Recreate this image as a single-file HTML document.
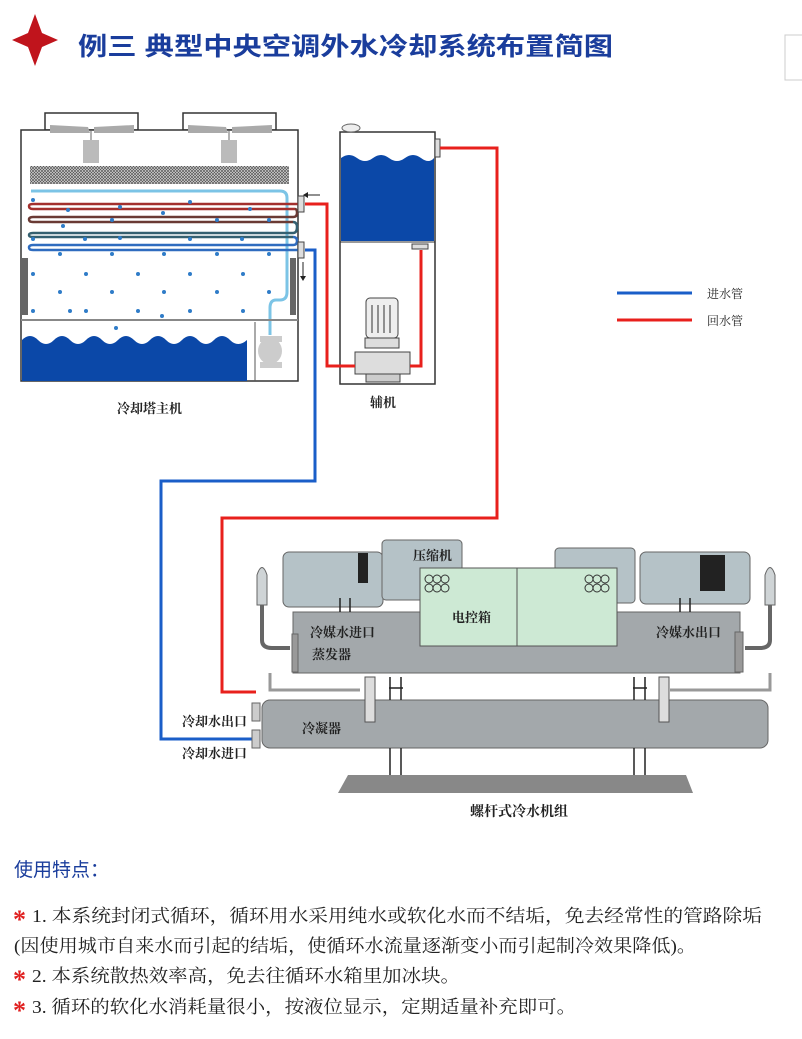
<!DOCTYPE html>
<html><head><meta charset="utf-8"><style>
html,body{margin:0;padding:0;background:#fff;}
svg{display:block}
.s{font-family:"Liberation Serif","Noto Serif CJK SC",serif;fill:#222;}
.h{font-family:"Liberation Sans","Noto Sans CJK SC",sans-serif;fill:#1a3d9c;}
</style></head><body>
<svg width="802" height="1039" viewBox="0 0 802 1039" xmlns="http://www.w3.org/2000/svg">
<!-- title -->
<polygon points="35,14 42,33 58,40 42,47 35,66 28,47 12,40 28,33" fill="#c0141c"/>
<text class="h" x="78" y="55" font-size="25" font-weight="bold" textLength="535" lengthAdjust="spacingAndGlyphs">例三  典型中央空调外水冷却系统布置简图</text>
<rect x="785" y="35" width="20" height="45" fill="#fff" stroke="#ccc"/>

<!-- cooling tower -->
<rect x="45" y="113" width="93" height="17" fill="#fff" stroke="#333" stroke-width="1.5"/>
<rect x="183" y="113" width="93" height="17" fill="#fff" stroke="#333" stroke-width="1.5"/>
<rect x="21" y="130" width="277" height="251" fill="#fff" stroke="#333" stroke-width="1.5"/>
<polygon points="50,125 88,127 90,133 50,133" fill="#aaa"/><polygon points="94,127 134,125 134,133 94,133" fill="#aaa"/>
<polygon points="188,125 226,127 228,133 188,133" fill="#aaa"/><polygon points="232,127 272,125 272,133 232,133" fill="#aaa"/>
<rect x="83" y="140" width="16" height="23" fill="#bbb"/><rect x="221" y="140" width="16" height="23" fill="#bbb"/>
<line x1="91" y1="130" x2="91" y2="140" stroke="#666"/><line x1="229" y1="130" x2="229" y2="140" stroke="#666"/>
<defs><pattern id="hp" width="3" height="3" patternUnits="userSpaceOnUse"><rect width="3" height="3" fill="#ddd"/><path d="M0,0L3,3M3,0L0,3" stroke="#555" stroke-width="0.7"/></pattern></defs>
<rect x="30" y="166" width="259" height="18" fill="url(#hp)"/>
<g fill="none" stroke-width="2.5">
<path d="M31,191 H280 Q287,191 287,198 V292 Q287,300 280,300 H276 Q270,300 270,308 V335" stroke="#7cc4e6" stroke-width="3"/>
<path d="M298,204 H33 Q29,204 29,206 Q29,209 33,209 H295" stroke="#a3302e"/>
<path d="M295,209 Q297,209 297,213 Q297,217 293,217 H33 Q29,217 29,219.5 Q29,222 33,222 H293" stroke="#6a3a34"/>
<path d="M293,222 Q297,222 297,227 Q297,233 293,233 H33 Q29,233 29,235 Q29,237 33,237 H293" stroke="#356070"/>
<path d="M293,237 Q297,237 297,241 Q297,245 293,245 H33 Q29,245 29,247.5 Q29,250 33,250 H298" stroke="#2f6cbf"/>
</g>
<g fill="#2f7cc8">
<circle cx="33" cy="200" r="2"/><circle cx="120" cy="207" r="2"/><circle cx="163" cy="213" r="2"/><circle cx="68" cy="210" r="2"/><circle cx="250" cy="209" r="2"/><circle cx="190" cy="202" r="2"/>
<circle cx="112" cy="220" r="2"/><circle cx="217" cy="220" r="2"/><circle cx="269" cy="220" r="2"/><circle cx="63" cy="226" r="2"/>
<circle cx="33" cy="239" r="2"/><circle cx="85" cy="239" r="2"/><circle cx="120" cy="238" r="2"/><circle cx="190" cy="239" r="2"/><circle cx="242" cy="239" r="2"/>
<circle cx="60" cy="254" r="2"/><circle cx="112" cy="254" r="2"/><circle cx="164" cy="254" r="2"/><circle cx="217" cy="254" r="2"/><circle cx="269" cy="254" r="2"/>
<circle cx="33" cy="274" r="2"/><circle cx="86" cy="274" r="2"/><circle cx="138" cy="274" r="2"/><circle cx="190" cy="274" r="2"/><circle cx="243" cy="274" r="2"/>
<circle cx="60" cy="292" r="2"/><circle cx="112" cy="292" r="2"/><circle cx="164" cy="292" r="2"/><circle cx="217" cy="292" r="2"/><circle cx="269" cy="292" r="2"/>
<circle cx="33" cy="311" r="2"/><circle cx="70" cy="311" r="2"/><circle cx="86" cy="311" r="2"/><circle cx="138" cy="311" r="2"/><circle cx="162" cy="316" r="2"/><circle cx="190" cy="311" r="2"/><circle cx="243" cy="311" r="2"/><circle cx="116" cy="328" r="2"/>
</g>
<rect x="22" y="258" width="6" height="57" fill="#666"/><rect x="290" y="258" width="6" height="57" fill="#666"/>
<line x1="21" y1="320" x2="298" y2="320" stroke="#888" stroke-width="2"/>
<path d="M22,340 q8,-8 16,0 t16,0 t16,0 t16,0 t16,0 t16,0 t16,0 t16,0 t16,0 t16,0 t16,0 t16,0 t16,0 t17,0 V381 H22Z" fill="#0b48a8"/>
<line x1="255" y1="322" x2="255" y2="381" stroke="#555"/>
<ellipse cx="270" cy="351" rx="12" ry="13" fill="#ccc"/><rect x="260" y="336" width="22" height="6" fill="#ccc"/><rect x="260" y="362" width="22" height="6" fill="#ccc"/>
<rect x="298" y="196" width="6" height="16" fill="#ddd" stroke="#444"/><rect x="298" y="242" width="6" height="16" fill="#ddd" stroke="#444"/>
<path d="M320,195 H308" stroke="#222"/><polygon points="308,192 303,195 308,198" fill="#222"/>
<path d="M303,262 V276" stroke="#222"/><polygon points="300,276 303,281 306,276" fill="#222"/>
<text class="s" x="117" y="413" font-size="13" font-weight="bold">冷却塔主机</text>

<!-- aux tank -->
<rect x="340" y="132" width="95" height="252" fill="#fff" stroke="#333" stroke-width="1.5"/>
<ellipse cx="351" cy="128" rx="9" ry="4" fill="#eee" stroke="#666"/>
<path d="M341,158 q8,-6 16,0 t16,0 t16,0 t16,0 t16,0 t13,0 V241 H341Z" fill="#0b48a8"/>
<line x1="340" y1="242" x2="435" y2="242" stroke="#333"/>
<rect x="435" y="139" width="5" height="18" fill="#ddd" stroke="#444"/>
<rect x="412" y="244" width="16" height="5" fill="#ddd" stroke="#444"/>
<rect x="366" y="298" width="32" height="40" rx="4" fill="#eee" stroke="#444"/>
<g stroke="#333"><line x1="372" y1="305" x2="372" y2="333"/><line x1="378" y1="305" x2="378" y2="333"/><line x1="384" y1="305" x2="384" y2="333"/><line x1="390" y1="305" x2="390" y2="333"/></g>
<rect x="365" y="338" width="34" height="10" fill="#ddd" stroke="#444"/>
<rect x="355" y="352" width="55" height="22" fill="#ddd" stroke="#444"/>
<rect x="366" y="374" width="34" height="8" fill="#ccc" stroke="#444"/>
<text class="s" x="370" y="407" font-size="13" font-weight="bold">辅机</text>

<!-- pipes -->
<g fill="none" stroke-width="3">
<path d="M305,204 H327 V366 H355" stroke="#e8201c"/>
<path d="M410,366 H421 V250" stroke="#e8201c"/>
<path d="M440,148 H497 V518 H222 V692 H256" stroke="#e8201c"/>
<path d="M305,250 H315 V481 H161 V739 H256" stroke="#1a5ec8"/>
</g>
<line x1="617" y1="293" x2="692" y2="293" stroke="#1a5ec8" stroke-width="3"/>
<line x1="617" y1="320" x2="692" y2="320" stroke="#e8201c" stroke-width="3"/>
<text class="s" x="707" y="298" font-size="12">进水管</text>
<text class="s" x="707" y="325" font-size="12">回水管</text>

<!-- chiller -->
<polygon points="348,775 686,775 693,793 338,793" fill="#888"/>
<g fill="#cfd4d6" stroke="#666">
<path d="M257,575 q5,-15 10,0 v30 h-10z"/><path d="M765,575 q5,-15 10,0 v30 h-10z"/>
<path d="M262,605 V640 Q262,648 272,648 H290" fill="none" stroke="#666" stroke-width="4"/>
<path d="M770,605 V640 Q770,648 760,648 H745" fill="none" stroke="#666" stroke-width="4"/>
<rect x="283" y="552" width="100" height="55" rx="6" fill="#b5c2c7"/>
<rect x="382" y="540" width="80" height="60" rx="4" fill="#b5c2c7"/>
<rect x="555" y="548" width="80" height="55" rx="4" fill="#b5c2c7"/>
<rect x="640" y="552" width="110" height="52" rx="6" fill="#b5c2c7"/>
<rect x="293" y="612" width="447" height="61" fill="#a3a8ab"/>
<rect x="292" y="634" width="6" height="38" fill="#999"/><rect x="735" y="632" width="8" height="40" fill="#999"/>
<rect x="262" y="700" width="506" height="48" rx="8" fill="#a3a8ab"/>
<rect x="252" y="703" width="8" height="18" fill="#ccc"/><rect x="252" y="730" width="8" height="18" fill="#ccc"/>
</g>
<g fill="#222"><rect x="358" y="553" width="10" height="30"/><rect x="700" y="555" width="25" height="36"/></g>
<rect x="420" y="568" width="197" height="78" fill="#cde9d4" stroke="#555"/>
<line x1="517" y1="568" x2="517" y2="646" stroke="#555"/>
<g fill="none" stroke="#333"><circle cx="429" cy="579" r="4"/><circle cx="437" cy="579" r="4"/><circle cx="445" cy="579" r="4"/><circle cx="429" cy="588" r="4"/><circle cx="437" cy="588" r="4"/><circle cx="445" cy="588" r="4"/>
<circle cx="589" cy="579" r="4"/><circle cx="597" cy="579" r="4"/><circle cx="605" cy="579" r="4"/><circle cx="589" cy="588" r="4"/><circle cx="597" cy="588" r="4"/><circle cx="605" cy="588" r="4"/></g>
<g stroke="#222" stroke-width="1.5" fill="none">
<path d="M390,700 V677 M401,700 V677 M389,688 H403 M634,700 V677 M645,700 V677 M633,688 H647 M390,748 V775 M401,748 V775 M634,748 V775 M645,748 V775 M340,612 V598 M350,612 V598 M680,612 V598 M690,612 V598"/>
</g>
<rect x="365" y="677" width="10" height="45" fill="#ddd" stroke="#555"/><rect x="659" y="677" width="10" height="45" fill="#ddd" stroke="#555"/>
<path d="M270,673 V690 H360 M770,673 V690 H670" fill="none" stroke="#999" stroke-width="3"/>
<g font-weight="bold">
<text class="s" x="413" y="560" font-size="13">压缩机</text>
<text class="s" x="452" y="622" font-size="13">电控箱</text>
<text class="s" x="310" y="637" font-size="13">冷媒水进口</text>
<text class="s" x="312" y="659" font-size="13">蒸发器</text>
<text class="s" x="656" y="637" font-size="13">冷媒水出口</text>
<text class="s" x="302" y="733" font-size="13">冷凝器</text>
<text class="s" x="182" y="726" font-size="13">冷却水出口</text>
<text class="s" x="182" y="758" font-size="13">冷却水进口</text>
<text class="s" x="470" y="816" font-size="14">螺杆式冷水机组</text>
</g>

<!-- notes -->
<text class="h" x="14" y="876" font-size="19">使用特点：</text>
<g class="s" font-size="18">
<text x="13" y="928" font-size="26" font-weight="bold" style="fill:#e02020">*</text>
<text x="32" y="922" textLength="730" lengthAdjust="spacingAndGlyphs">1. 本系统封闭式循环，循环用水采用纯水或软化水而不结垢，免去经常性的管路除垢</text>
<text x="14" y="952" textLength="682" lengthAdjust="spacingAndGlyphs">(因使用城市自来水而引起的结垢，使循环水流量逐渐变小而引起制冷效果降低)。</text>
<text x="13" y="988" font-size="26" font-weight="bold" style="fill:#e02020">*</text>
<text x="32" y="982" textLength="428" lengthAdjust="spacingAndGlyphs">2. 本系统散热效率高，免去往循环水箱里加冰块。</text>
<text x="13" y="1019" font-size="26" font-weight="bold" style="fill:#e02020">*</text>
<text x="32" y="1013" textLength="544" lengthAdjust="spacingAndGlyphs">3. 循环的软化水消耗量很小，按液位显示，定期适量补充即可。</text>
</g>
</svg>
</body></html>
